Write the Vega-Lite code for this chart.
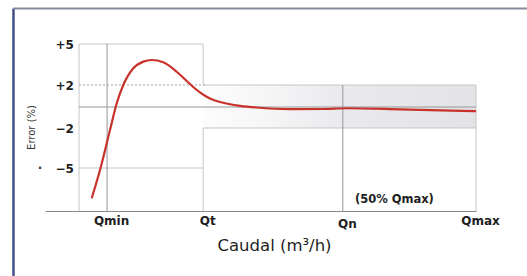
{
  "$schema": "https://vega.github.io/schema/vega-lite/v6.json",
  "width": 431,
  "height": 184,
  "autosize": {"type": "none"},
  "padding": {"left": 45, "top": 27, "right": 51, "bottom": 65},
  "background": "white",
  "config": {"view": {"stroke": null}},
  "datasets": {
    "curve": [
      {"q": 10.84, "err": -7.11},
      {"q": 12.76, "err": -5.14},
      {"q": 15.08, "err": -2.15},
      {"q": 16.64, "err": 0.34},
      {"q": 18.17, "err": 2.0},
      {"q": 20.49, "err": 3.22},
      {"q": 22.81, "err": 3.71},
      {"q": 24.76, "err": 3.83},
      {"q": 27.45, "err": 3.66},
      {"q": 30.56, "err": 2.97},
      {"q": 32.02, "err": 2.55},
      {"q": 33.64, "err": 2.07},
      {"q": 34.8, "err": 1.68},
      {"q": 35.96, "err": 1.32},
      {"q": 37.12, "err": 1.02},
      {"q": 38.28, "err": 0.77},
      {"q": 40.6, "err": 0.45},
      {"q": 42.92, "err": 0.25},
      {"q": 45.24, "err": 0.11},
      {"q": 49.12, "err": -0.05},
      {"q": 56.84, "err": -0.2},
      {"q": 64.5, "err": -0.19},
      {"q": 70.0, "err": -0.12},
      {"q": 82.37, "err": -0.22},
      {"q": 100, "err": -0.4}
    ],
    "band": [{"q": 36.7, "q2": 100, "e": 2, "e2": -2}],
    "light": [
      {"q": 7.9, "q2": 7.9, "e": 5, "e2": -8},
      {"q": 7.9, "q2": 36.7, "e": 5, "e2": 5},
      {"q": 36.7, "q2": 36.7, "e": 5, "e2": 2},
      {"q": 7.9, "q2": 36.7, "e": -5, "e2": -5},
      {"q": 36.7, "q2": 100, "e": 2, "e2": 2},
      {"q": 36.7, "q2": 100, "e": -2, "e2": -2},
      {"q": 36.7, "q2": 36.7, "e": -2, "e2": -8},
      {"q": 100, "q2": 100, "e": 2, "e2": -8}
    ],
    "dark": [
      {"q": 14.4, "q2": 14.4, "e": 5, "e2": -8},
      {"q": 69.1, "q2": 69.1, "e": 2, "e2": -8},
      {"q": 7.9, "q2": 100, "e": 0, "e2": 0}
    ],
    "dashed": [{"q": 7.9, "q2": 37.5, "e": 2, "e2": 2}],
    "frameLeft": [{"q": -7.31, "q2": -7.31, "e": 8.13, "e2": -14}],
    "frameTop": [{"q": -7.31, "q2": 120, "e": 8.13, "e2": 8.13}],
    "notes": [{"q": 71.9, "e": -7.23, "label": "(50% Qmax)"}],
    "dot": [{"q": -1.16, "e": -5, "label": "·"}]
  },
  "layer": [
    {
      "data": {"name": "band"},
      "mark": {
        "type": "rect",
        "fill": {
          "gradient": "linear",
          "x1": 0, "x2": 1, "y1": 0, "y2": 0,
          "stops": [
            {"offset": 0, "color": "#fcfcfc"},
            {"offset": 0.2, "color": "#f7f7f8"},
            {"offset": 0.5, "color": "#eaeaee"},
            {"offset": 1, "color": "#e2e2e7"}
          ]
        }
      },
      "encoding": {
        "x": {"field": "q", "type": "quantitative", "scale": {"domain": [0, 100], "nice": false, "zero": false},
          "axis": {
            "values": [14.4, 36.7, 69.1, 100],
            "labelExpr": "datum.value == 14.4 ? 'Qmin' : datum.value == 36.7 ? 'Qt' : datum.value == 69.1 ? 'Qn' : 'Qmax'",
            "domain": true, "domainColor": "#8a8a8a", "domainWidth": 1,
            "ticks": false, "tickSize": 0, "grid": false,
            "labelFont": "DejaVu Sans", "labelFontWeight": "bold", "labelFontSize": 12, "labelColor": "#1e1e1e",
            "labelOffset": 4,
            "labelPadding": {"condition": {"test": "datum.value == 69.1", "value": 7}, "value": 4},
            "labelFlush": false, "labelOverlap": false, "labelBound": false,
            "title": "Caudal (m³/h)",
            "titleFont": "DejaVu Sans", "titleFontSize": 16.5, "titleFontWeight": "normal", "titleColor": "#1e1e1e",
            "titleX": 229, "titleY": 34, "titleBaseline": "middle", "titleAlign": "center"
          }
        },
        "x2": {"field": "q2"},
        "y": {"field": "e", "type": "quantitative",
          "scale": {"type": "linear", "domain": [-8, -5, -2, 0, 2, 5, 6.5], "range": [184, 141, 101, 80, 58, 17, 0], "nice": false, "zero": false},
          "axis": {
            "values": [5, 2, -2, -5],
            "labelExpr": "datum.value > 0 ? '+' + datum.label : datum.label",
            "domain": false, "ticks": false, "tickSize": 0, "grid": false,
            "offset": -10, "labelAlign": "left", "labelPadding": 0, "labelBaseline": "middle",
            "labelFont": "DejaVu Sans", "labelFontWeight": "bold", "labelFontSize": 12, "labelColor": "#1e1e1e",
            "title": "Error (%)",
            "titleFont": "DejaVu Sans", "titleFontSize": 10, "titleFontWeight": "normal", "titleColor": "#333333",
            "titleX": -24, "titleY": 100, "titleAngle": -90, "titleBaseline": "middle", "titleAlign": "center"
          }
        },
        "y2": {"field": "e2"}
      }
    },
    {
      "data": {"name": "light"},
      "mark": {"type": "rule", "color": "#c6c6c6", "strokeWidth": 1},
      "encoding": {
        "x": {"field": "q", "type": "quantitative"},
        "x2": {"field": "q2"},
        "y": {"field": "e", "type": "quantitative"},
        "y2": {"field": "e2"}
      }
    },
    {
      "data": {"name": "dark"},
      "mark": {"type": "rule", "color": "#969696", "strokeWidth": 1},
      "encoding": {
        "x": {"field": "q", "type": "quantitative"},
        "x2": {"field": "q2"},
        "y": {"field": "e", "type": "quantitative"},
        "y2": {"field": "e2"}
      }
    },
    {
      "data": {"name": "dashed"},
      "mark": {"type": "rule", "color": "#97a3b3", "strokeWidth": 1.2, "strokeDash": [2, 2]},
      "encoding": {
        "x": {"field": "q", "type": "quantitative"},
        "x2": {"field": "q2"},
        "y": {"field": "e", "type": "quantitative"},
        "y2": {"field": "e2"}
      }
    },
    {
      "data": {"name": "curve"},
      "mark": {"type": "line", "color": "#c8322b", "strokeWidth": 2.2, "interpolate": "monotone"},
      "encoding": {
        "x": {"field": "q", "type": "quantitative"},
        "y": {"field": "err", "type": "quantitative"}
      }
    },
    {
      "data": {"name": "notes"},
      "mark": {"type": "text", "align": "left", "baseline": "middle", "font": "DejaVu Sans", "fontWeight": "bold", "fontSize": 11.5, "color": "#1e1e1e"},
      "encoding": {
        "x": {"field": "q", "type": "quantitative"},
        "y": {"field": "e", "type": "quantitative"},
        "text": {"field": "label"}
      }
    },
    {
      "data": {"name": "dot"},
      "mark": {"type": "text", "align": "center", "baseline": "middle", "font": "DejaVu Sans", "fontWeight": "bold", "fontSize": 12, "color": "#333333"},
      "encoding": {
        "x": {"field": "q", "type": "quantitative"},
        "y": {"field": "e", "type": "quantitative"},
        "text": {"field": "label"}
      }
    },
    {
      "data": {"name": "frameLeft"},
      "mark": {"type": "rule", "color": "#45508a", "strokeWidth": 2.5},
      "encoding": {
        "x": {"field": "q", "type": "quantitative"},
        "x2": {"field": "q2"},
        "y": {"field": "e", "type": "quantitative"},
        "y2": {"field": "e2"}
      }
    },
    {
      "data": {"name": "frameTop"},
      "mark": {"type": "rule", "color": "#868b9b", "strokeWidth": 2},
      "encoding": {
        "x": {"field": "q", "type": "quantitative"},
        "x2": {"field": "q2"},
        "y": {"field": "e", "type": "quantitative"},
        "y2": {"field": "e2"}
      }
    }
  ]
}
